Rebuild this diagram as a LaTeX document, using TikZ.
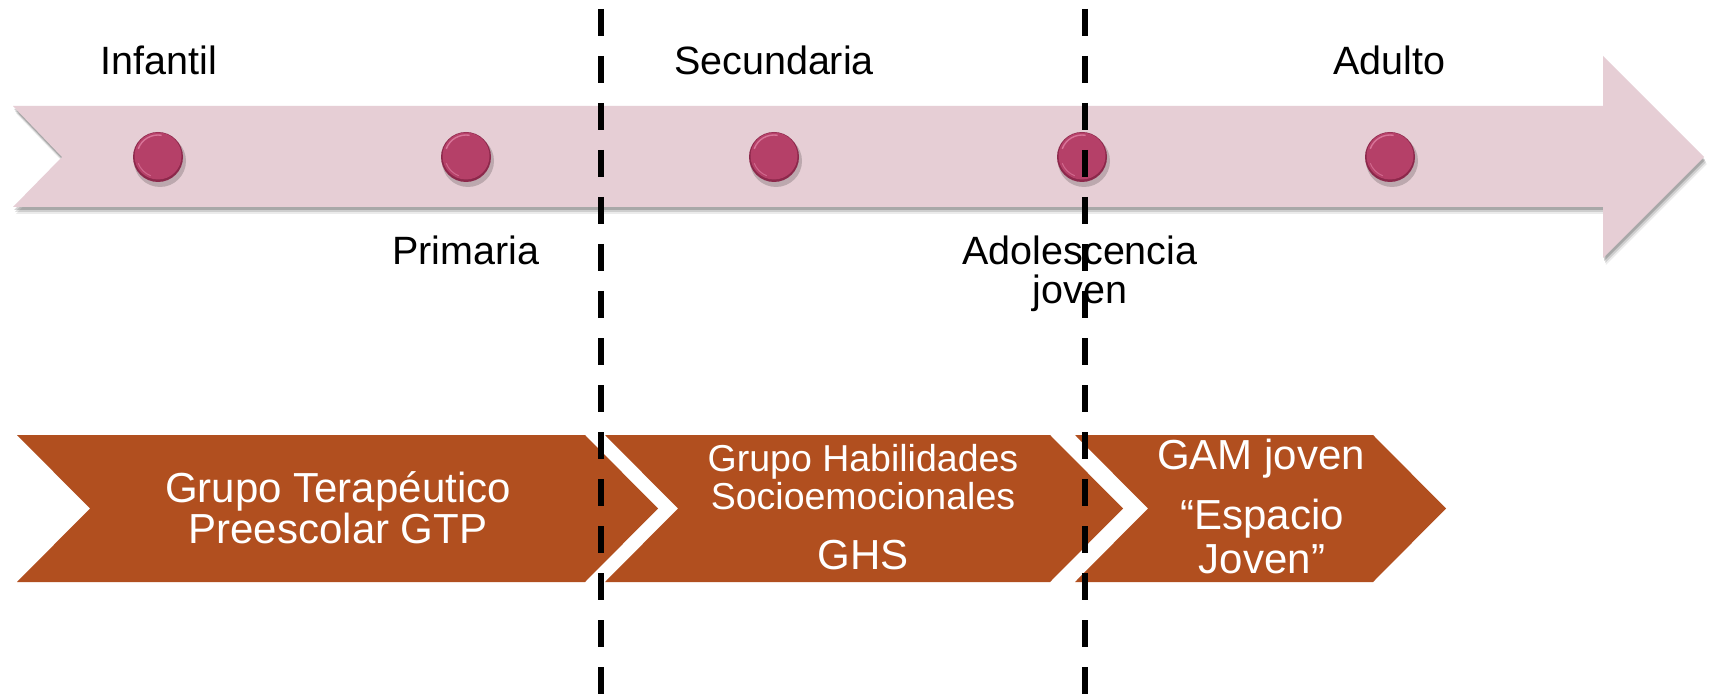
\documentclass[tikz,border=0pt]{standalone}
\usepackage{fontspec}
\setmainfont{Liberation Sans}
\definecolor{bandpink}{RGB}{230,206,213}
\definecolor{dotpink}{RGB}{181,64,104}
\definecolor{dotdark}{RGB}{140,40,75}
\definecolor{dotlight}{RGB}{225,130,165}
\definecolor{rust}{RGB}{177,79,31}
\tikzset{
  lbl/.style={anchor=base, inner sep=0pt, font=\fontsize{39.5}{39.5}\selectfont, text=black},
  wlbl/.style={anchor=base, inner sep=0pt, font=\fontsize{42}{42}\selectfont, text=white},
  slbl/.style={anchor=base, inner sep=0pt, font=\fontsize{37.5}{37.5}\selectfont, text=white},
  chev/.style={fill=rust, draw=none},
  divider/.style={draw=black, line width=6pt, dash pattern=on 27pt off 20pt},
}
\newcommand{\tldot}[2]{%
  \fill[black, opacity=0.18] (#1+2,157+4) circle (26);
  \fill[dotdark] (#1,157) circle (25);
  \fill[dotpink] (#1,156) circle (23.5);
  \draw[dotlight, line width=1.4pt, opacity=0.8] (#1,156) ++(200:21) arc (200:280:21);
  \draw[dotlight, line width=1pt, opacity=0.6] (#1,156) ++(110:21) arc (110:160:21);
  \coordinate (#2) at (#1,157);
}
\begin{document}
\begin{tikzpicture}[x=1pt, y=-1pt]
\useasboundingbox (0,0) rectangle (1709,695);
\fill[white] (0,0) rectangle (1709,695);
% band shadow
\foreach \o/\op in {7/0.08, 5/0.12, 3/0.18} {
  \fill[black, opacity=\op] ([xshift=\o*0.4pt, yshift=-\o pt]13,106) -- ++(1590,0) -- ++(0,-50) -- ++(101,101) -- ++(-101,101) -- ++(0,-51) -- ++(-1590,0) -- ++(49,-50) -- cycle;
}
% timeline band
\fill[bandpink] (13,106) coordinate (bandTL) -- (1603,106) -- (1603,56) -- (1704,157) coordinate (bandTip) -- (1603,258) -- (1603,207) -- (13,207) -- (62,157) coordinate (bandNotch) -- cycle;
% dots
\tldot{158}{d1}
\tldot{466}{d2}
\tldot{774}{d3}
\tldot{1082}{d4}
\tldot{1390}{d5}
% top labels
\node[lbl] (infantil) at (159,75) {Infantil};
\node[lbl] (primaria) at (466,265) {Primaria};
\node[lbl] (secundaria) at (774,75) {Secundaria};
\node[lbl] (adol) at (1080,265) {Adolescencia};
\node[lbl] (joven) at (1080,304) {joven};
\node[lbl] (adulto) at (1389,75) {Adulto};
% lower chevrons
\fill[chev] (17,435) -- (585,435) -- (658,508.5) coordinate (c1tip) -- (585,582) -- (17,582) -- (90,508.5) -- cycle;
\fill[chev] (605,435) -- (1050,435) -- (1123,508.5) coordinate (c2tip) -- (1050,582) -- (605,582) -- (678,508.5) -- cycle;
\fill[chev] (1075,435) -- (1373,435) -- (1446,508.5) coordinate (c3tip) -- (1373,582) -- (1075,582) -- (1148,508.5) -- cycle;
% chevron texts
\node[wlbl] (gt1) at (338,502) {Grupo Terapéutico};
\node[wlbl] (gt2) at (338,543) {Preescolar GTP};
\node[slbl] (gh1) at (863,471) {Grupo Habilidades};
\node[slbl] (gh2) at (863,509) {Socioemocionales};
\node[wlbl] (gh3) at (863,569) {GHS};
\node[wlbl] (gam1) at (1261,469) {GAM joven};
\node[wlbl] (gam2) at (1262,529) {“Espacio};
\node[wlbl] (gam3) at (1262,573) {Joven”};
% dashed dividers
\coordinate (v1top) at (601,9);
\coordinate (v1bot) at (601,695);
\coordinate (v2top) at (1085,9);
\coordinate (v2bot) at (1085,695);
\draw[divider] (v1top) -- (v1bot);
\draw[divider] (v2top) -- (v2bot);
\end{tikzpicture}
\end{document}
